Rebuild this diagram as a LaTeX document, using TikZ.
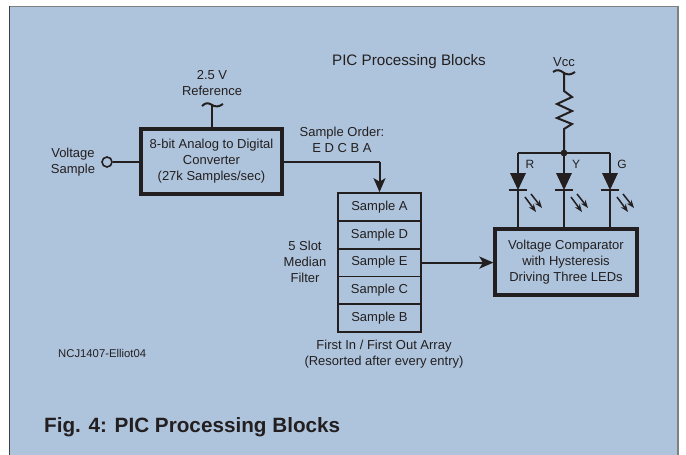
\documentclass[tikz,border=0pt]{standalone}
\usepackage{fontspec}
\setmainfont{Liberation Sans}
\usetikzlibrary{arrows.meta}
\definecolor{panelblue}{HTML}{AEC4DC}
\definecolor{inkblack}{HTML}{231F20}
\begin{document}
\begin{tikzpicture}[x=1pt,y=-1pt,
        blockbox/.style={draw=inkblack, line width=3.2pt, rectangle, inner sep=0pt, align=center, text=inkblack, font=\fontsize{13}{16}\selectfont},
        slotbox/.style={draw=inkblack, line width=1.9pt, rectangle, inner sep=0pt, minimum width=83pt, minimum height=27.8pt, text=inkblack, font=\fontsize{13}{16}\selectfont},
        textnote/.style={text=inkblack, align=center, inner sep=0pt, font=\fontsize{13}{16}\selectfont},
        wire/.style={draw=inkblack, line width=2pt},
        arrowwire/.style={wire, -{Stealth[length=14pt,width=12pt,inset=3.5pt]}},
        tinyarrow/.style={draw=inkblack, line width=1.5pt, -{Stealth[length=8pt,width=6pt]}}]
    \useasboundingbox (0,0) rectangle (686,455);
    \fill[white] (0,0) rectangle (686,455);
    \fill[panelblue] (9,6) rectangle (678,455);
    \draw[gray, line width=1.2pt] (9,6.5) -- (678,6.5);
    \draw[gray, line width=2pt] (678,6) -- (678,455);
    \draw[black!75, line width=1pt] (9.5,6) -- (9.5,455);

    \node[textnote, font=\fontsize{15.2}{16}\selectfont] (title) at (409,62) {PIC Processing Blocks};
    \node[textnote] (input) at (73,162) {Voltage\\Sample};
    \node[textnote] (ref) at (212,83) {2.5 V\\Reference};
    \node[textnote] (order) at (342,140) {Sample Order:\\E D C B A};
    \node[textnote] (median) at (305,262) {5 Slot\\Median\\Filter};
    \node[textnote] (fifo) at (384,354) {First In / First Out Array\\(Resorted after every entry)};
    \node[textnote, anchor=west, font=\fontsize{11.3}{12}\selectfont] (code) at (58,353) {NCJ1407-Elliot04};
    \node[textnote, anchor=west, font=\bfseries\fontsize{20.7}{22}\selectfont] (caption) at (44,427) {Fig. 4: PIC Processing Blocks};

    \node[blockbox, minimum width=141pt, minimum height=65pt] (adc) at (211.5,161.5) {8-bit Analog to Digital\\Converter\\(27k Samples/sec)};
    \node[blockbox, minimum width=142pt, minimum height=66pt] (cmp) at (566,262) {Voltage Comparator\\with Hysteresis\\Driving Three LEDs};

    \node[slotbox] (slota) at (379.5,207) {Sample A};
    \node[slotbox] (slotd) at (379.5,234.8) {Sample D};
    \node[slotbox] (slote) at (379.5,262.6) {Sample E};
    \node[slotbox] (slotc) at (379.5,290.4) {Sample C};
    \node[slotbox] (slotb) at (379.5,318.2) {Sample B};

    % input and reference
    \node[circle, draw=inkblack, line width=1.6pt, fill=panelblue, minimum size=10pt, inner sep=0pt] (port) at (107,162) {};
    \draw[wire] (port) -- (port -| adc.west);
    \coordinate (reftop) at (212,105);
    \draw[wire] (reftop) -- (reftop |- adc.north);
    \draw[wire] (202,106) .. controls (206,102) and (209,103) .. (reftop) .. controls (215,107) and (219,107) .. (223,104);

    % from converter to filter
    \coordinate (bend) at (379.5,162);
    \draw[wire] (adc.east |- bend) -- (bend);
    \draw[arrowwire] (bend) -- (slota.north);
    \draw[arrowwire] (slote.east) -- (slote.east -| cmp.west);

    % supply and resistor
    \node[textnote] (vcc) at (564,62) {Vcc};
    \coordinate (vcctop) at (564,73);
    \coordinate (node) at (564,153);
    \coordinate (busl) at (518,153);
    \coordinate (busr) at (610,153);
    \draw[wire] (553,72) .. controls (557,69) and (560,70) .. (vcctop) .. controls (567,75) and (571,75) .. (575,72);
    \draw[wire] (vcctop) -- (564,91) -- (572,97) -- (557,104) -- (572,111) -- (557,118) -- (572,124) -- (564,129) -- (node);
    \draw[wire] (busl) -- (busr);
    \fill[inkblack] (node) circle (3.4pt);

    % three LEDs
    \foreach \ledx/\ledname in {518/R,564/Y,610/G} {
        \coordinate (top\ledname) at (\ledx,153);
        \coordinate (led\ledname) at (\ledx,190);
        \draw[wire] (top\ledname) -- (\ledx,173);
        \fill[inkblack] (\ledx-8,173) -- (\ledx+8,173) -- (led\ledname) -- cycle;
        \draw[wire, line width=1.5pt] (\ledx-9,190) -- (\ledx+9,190);
        \draw[wire] (led\ledname) -- (led\ledname |- cmp.north);
        \draw[tinyarrow] (\ledx+7,197) -- (\ledx+18,212);
        \draw[tinyarrow] (\ledx+13,194) -- (\ledx+24,208);
        \node[textnote, font=\fontsize{12}{12}\selectfont] (label\ledname) at (\ledx+12,164) {\ledname};
    }
\end{tikzpicture}
\end{document}
